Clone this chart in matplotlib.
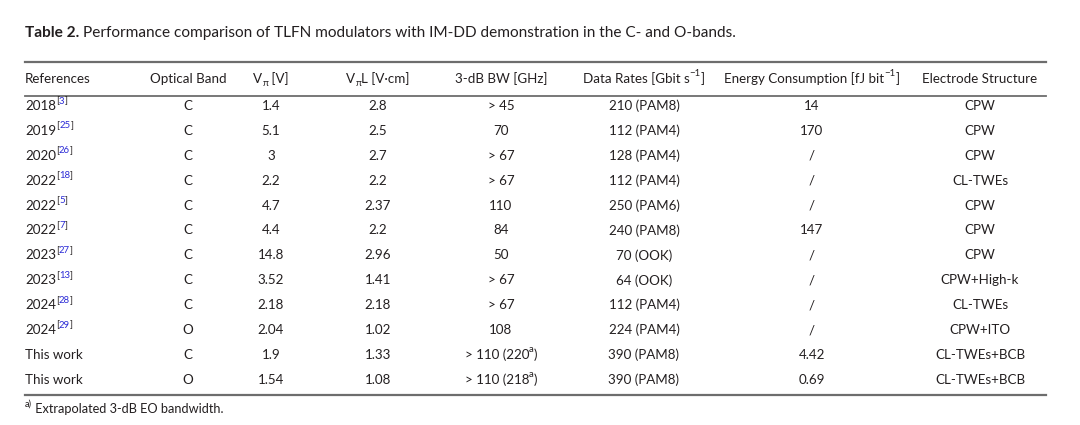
import matplotlib
matplotlib.use("Agg")
import matplotlib.pyplot as plt
from matplotlib.lines import Line2D

plt.rcParams['font.family'] = ['Lato', 'DejaVu Sans']

years = ["2018", "2019", "2020", "2022", "2022", "2022", "2023", "2023", "2024", "2024", "This work", "This work"]
ref_nums = ["3", "25", "26", "18", "5", "7", "27", "13", "28", "29", "", ""]
bands = ["C", "C", "C", "C", "C", "C", "C", "C", "C", "O", "C", "O"]
vpi = ["1.4", "5.1", "3", "2.2", "4.7", "4.4", "14.8", "3.52", "2.18", "2.04", "1.9", "1.54"]
vpil = ["2.8", "2.5", "2.7", "2.2", "2.37", "2.2", "2.96", "1.41", "2.18", "1.02", "1.33", "1.08"]
bw = ["> 45", "70", "> 67", "> 67", "110", "84", "50", "> 67", "> 67", "108", "> 110 (220", "> 110 (218"]
bw_note = ["", "", "", "", "", "", "", "", "", "", "a", "a"]
rates = ["210 (PAM8)", "112 (PAM4)", "128 (PAM4)", "112 (PAM4)", "250 (PAM6)", "240 (PAM8)",
         "70 (OOK)", "64 (OOK)", "112 (PAM4)", "224 (PAM4)", "390 (PAM8)", "390 (PAM8)"]
energy = ["14", "170", "/", "/", "/", "147", "/", "/", "/", "/", "4.42", "0.69"]
electrode = ["CPW", "CPW", "CPW", "CL-TWEs", "CPW", "CPW", "CPW", "CPW+High-k", "CL-TWEs",
             "CPW+ITO", "CL-TWEs+BCB", "CL-TWEs+BCB"]

W, H = 1080, 425
fig = plt.figure(figsize=(W / 100, H / 100), dpi=100)
fig.patch.set_facecolor("white")
renderer = fig.canvas.get_renderer()

TXT = "#231f20"
BLUE = "#2b2bd6"
FS = 9.6


def draw_pieces(x, y, pieces, ha="left", fs=FS):
    # pieces: (text, kind, color) where kind is 'n', 'sup' or 'sub'
    arts = []
    for text, kind, color in pieces:
        size = fs if kind == "n" else fs * 0.72
        t = fig.text(0, 0, text, fontsize=size, color=color, va="center", ha="left")
        arts.append((t, kind))
    widths = [t.get_window_extent(renderer).width for t, _ in arts]
    total = sum(widths)
    cx = x - total / 2 if ha == "center" else x
    for (t, kind), w in zip(arts, widths):
        dy = {"n": 0, "sup": -5, "sub": 4}[kind]
        t.set_position((cx / W, 1 - (y + dy) / H))
        cx += w
    return arts


# title
t1 = fig.text(25 / W, 1 - 33 / H, "Table 2.", fontsize=11.1, fontweight="bold", color=TXT, va="center")
w1 = t1.get_window_extent(renderer).width
fig.text((25 + w1 + 4) / W, 1 - 33 / H,
         "Performance comparison of TLFN modulators with IM-DD demonstration in the C- and O-bands.",
         fontsize=11.1, color=TXT, va="center")

# rules
def hrule(y, lw, color):
    fig.add_artist(Line2D([25 / W, 1046 / W], [1 - y / H, 1 - y / H], lw=lw, color=color,
                          transform=fig.transFigure))

hrule(62, 1.6, "#6d6d6d")
hrule(96, 1.3, "#6d6d6d")
hrule(395, 1.6, "#6d6d6d")

col_x = [25, 188, 271, 378, 501, 644, 812, 980]
hy = 79
draw_pieces(col_x[0], hy, [("References", "n", TXT)])
draw_pieces(col_x[1], hy, [("Optical Band", "n", TXT)], ha="center")
draw_pieces(col_x[2], hy, [("V", "n", TXT), ("\u03c0", "sub", TXT), (" [V]", "n", TXT)], ha="center")
draw_pieces(col_x[3], hy, [("V", "n", TXT), ("\u03c0", "sub", TXT), ("L [V\u00b7cm]", "n", TXT)], ha="center")
draw_pieces(col_x[4], hy, [("3-dB BW [GHz]", "n", TXT)], ha="center")
draw_pieces(col_x[5], hy, [("Data Rates [Gbit s", "n", TXT), ("\u22121", "sup", TXT), ("]", "n", TXT)], ha="center")
draw_pieces(col_x[6], hy, [("Energy Consumption [fJ bit", "n", TXT), ("\u22121", "sup", TXT), ("]", "n", TXT)], ha="center")
draw_pieces(col_x[7], hy, [("Electrode Structure", "n", TXT)], ha="center")

y0, dy = 106, 24.9
for i in range(len(years)):
    y = y0 + i * dy
    ref = [(years[i], "n", TXT)]
    if ref_nums[i]:
        ref += [("[", "sup", TXT), (ref_nums[i], "sup", BLUE), ("]", "sup", TXT)]
    draw_pieces(col_x[0], y, ref)
    draw_pieces(col_x[1], y, [(bands[i], "n", TXT)], ha="center")
    draw_pieces(col_x[2], y, [(vpi[i], "n", TXT)], ha="center")
    draw_pieces(col_x[3], y, [(vpil[i], "n", TXT)], ha="center")
    bwp = [(bw[i], "n", TXT)]
    if bw_note[i]:
        bwp += [(bw_note[i], "sup", TXT), (")", "n", TXT)]
    draw_pieces(col_x[4], y, bwp, ha="center")
    draw_pieces(col_x[5], y, [(rates[i], "n", TXT)], ha="center")
    draw_pieces(col_x[6], y, [(energy[i], "n", TXT)], ha="center")
    draw_pieces(col_x[7], y, [(electrode[i], "n", TXT)], ha="center")

draw_pieces(25, 409, [("a)", "sup", TXT), (" Extrapolated 3-dB EO bandwidth.", "n", TXT)], fs=9.2)

fig.savefig("out.png", dpi=100, facecolor="white")
